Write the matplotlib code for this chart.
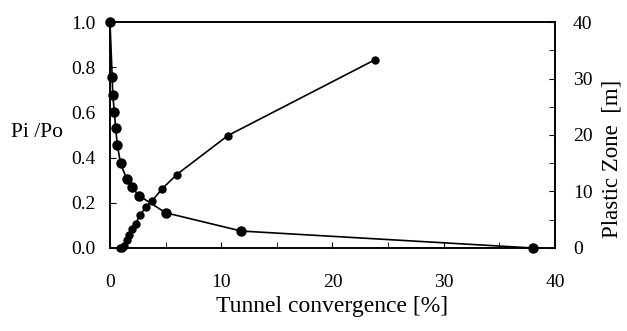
import matplotlib
matplotlib.use("Agg")
import matplotlib.pyplot as plt
from matplotlib.ticker import MultipleLocator

conv_p = [0.0, 0.2, 0.25, 0.39, 0.51, 0.66, 0.95, 1.5, 1.95, 2.6, 5.0, 11.8, 38.0]
pipo = [1.0, 0.755, 0.677, 0.603, 0.53, 0.456, 0.375, 0.305, 0.27, 0.232, 0.156, 0.075, 0.0]

conv_z = [0.9, 1.05, 1.3, 1.5, 1.7, 1.95, 2.3, 2.7, 3.2, 3.8, 4.7, 6.0, 10.6, 23.8]
plastic = [0.0, 0.0, 0.4, 1.5, 2.3, 3.4, 4.3, 5.8, 7.2, 8.4, 10.5, 13.0, 19.9, 33.3]

plt.rcParams['font.family'] = ['Liberation Serif', 'DejaVu Serif']

fig = plt.figure(figsize=(6.27, 3.31), dpi=100)
ax = fig.add_axes([0.1754, 0.2508, 0.7097, 0.6827])
ax2 = ax.twinx()

ax.plot(conv_p, pipo, color='black', lw=1.2, marker='o', ms=6.5, clip_on=False, zorder=3)
ax2.plot(conv_z, plastic, color='black', lw=1.2, marker='o', ms=5, clip_on=False, zorder=3)

ax.set_xlim(0, 40)
ax.set_ylim(0, 1.0)
ax2.set_ylim(0, 40)

ax.xaxis.set_major_locator(MultipleLocator(10))
ax.xaxis.set_minor_locator(MultipleLocator(5))
ax2.yaxis.set_major_locator(MultipleLocator(10))
ax2.yaxis.set_minor_locator(MultipleLocator(5))

ax.set_yticks([0, 0.2, 0.4, 0.6, 0.8, 1.0])
ax.set_yticklabels(['0.0', '0.2', '0.4', '0.6', '0.8', '1.0'])

ax.tick_params(axis='x', direction='in', which='both', length=4, labelsize=14, pad=19, top=False)
ax.tick_params(axis='y', direction='in', which='both', length=4, labelsize=14, pad=10.5)
ax2.tick_params(axis='y', direction='in', which='both', length=4, labelsize=14, pad=13)

for a in (ax, ax2):
    for s in a.spines.values():
        s.set_linewidth(1.2)

ax.set_xlabel('Tunnel convergence [%]', fontsize=17)
ax.xaxis.label.set_va('center')
ax.xaxis.set_label_coords(0.5, -0.261)

ax.set_ylabel('Pi /Po', fontsize=15.5, rotation=0)
ax.yaxis.label.set_ha('center')
ax.yaxis.label.set_va('center')
ax.yaxis.set_label_coords(-0.164, 0.509)

ax2.set_ylabel('Plastic Zone  [m]', fontsize=16.5)
ax2.yaxis.label.set_va('center')
ax2.yaxis.set_label_coords(1.128, 0.396)

fig.savefig('out.png', dpi=100)
